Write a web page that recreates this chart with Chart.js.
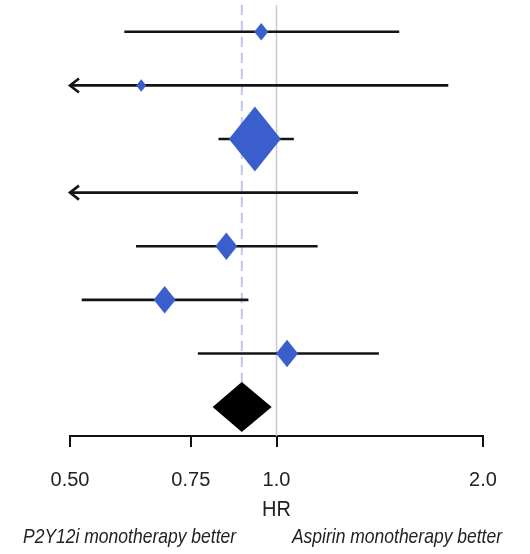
<!DOCTYPE html>
<html>
<head>
<meta charset="utf-8">
<script src="https://cdn.jsdelivr.net/npm/chart.js@4.4.1/dist/chart.umd.min.js"></script>
<style>
  html, body { margin: 0; padding: 0; background: #fff; }
</style>
</head>
<body>
<canvas id="forest" width="530" height="554"></canvas>
<script>
// study rows, top to bottom (null lower = CI runs past 0.5, drawn as arrow)
const hr    = [0.95, 0.635, 0.93, null, 0.845, 0.687, 1.036];
const lower = [0.60, null, 0.823, null, 0.624, 0.52, 0.768];
const upper = [1.51, 1.78, 1.06, 1.315, 1.148, 0.91, 1.41];
// pooled estimate
const pooledHR = 0.89;
const pooledLower = 0.807;
const pooledUpper = 0.984;

const tickValues = [0.5, 0.75, 1.0, 2.0];
const tickLabels = ['0.50', '0.75', '1.0', '2.0'];

// marker half widths in px (box size ~ study weight)
const markerSize = [7, 5, 26, 0, 11, 11, 11];

const FONT = "'Liberation Sans', Arial, sans-serif";
const BLUE = '#3a5fcd';

const ciSets = upper.map((u, i) => ({
  data: [{ x: lower[i] == null ? 0.5 : lower[i], y: i }, { x: u, y: i }],
  showLine: true,
  borderColor: '#141414',
  borderWidth: 2.6,
  pointRadius: 0,
  borderCapStyle: 'butt'
}));

const diamond = (ctx, cx, cy, hw, hh) => {
  ctx.beginPath();
  ctx.moveTo(cx - hw, cy);
  ctx.lineTo(cx, cy - hh);
  ctx.lineTo(cx + hw, cy);
  ctx.lineTo(cx, cy + hh);
  ctx.closePath();
  ctx.fill();
};

// text stretched a little vertically, like the source image
const tallText = (ctx, txt, x, y, sy) => {
  ctx.save();
  ctx.translate(x, y);
  ctx.scale(1, sy);
  ctx.fillText(txt, 0, 0);
  ctx.restore();
};

const forestMarks = {
  id: 'forestMarks',
  beforeDatasetsDraw(chart) {
    const { ctx, chartArea, scales: { x, y } } = chart;
    ctx.save();
    const x1 = x.getPixelForValue(1);
    ctx.strokeStyle = '#c8c8d6';
    ctx.lineWidth = 1.5;
    ctx.beginPath();
    ctx.moveTo(x1, chartArea.top);
    ctx.lineTo(x1, chartArea.bottom);
    ctx.stroke();

    const xp = x.getPixelForValue(pooledHR);
    ctx.strokeStyle = '#c4c4ee';
    ctx.lineWidth = 2;
    ctx.setLineDash([10, 6]);
    ctx.beginPath();
    ctx.moveTo(xp, chartArea.top);
    ctx.lineTo(xp, y.getPixelForValue(hr.length) - 24);
    ctx.stroke();
    ctx.restore();
  },
  afterDatasetsDraw(chart) {
    const { ctx, scales: { x, y } } = chart;
    ctx.save();
    // arrows for CIs running off the left edge
    ctx.strokeStyle = '#141414';
    ctx.lineWidth = 2.6;
    lower.forEach((lo, i) => {
      if (lo != null) return;
      const ax = x.getPixelForValue(0.5), ay = y.getPixelForValue(i);
      ctx.beginPath();
      ctx.moveTo(ax + 9, ay - 7);
      ctx.lineTo(ax, ay);
      ctx.lineTo(ax + 9, ay + 7);
      ctx.stroke();
    });
    // study estimates
    ctx.fillStyle = BLUE;
    hr.forEach((v, i) => {
      if (v == null) return;
      const s = markerSize[i];
      diamond(ctx, x.getPixelForValue(v), y.getPixelForValue(i), s, s * 1.25);
    });
    // pooled diamond spans the CI
    const xl = x.getPixelForValue(pooledLower);
    const xr = x.getPixelForValue(pooledUpper);
    const xc = x.getPixelForValue(pooledHR);
    const yc = y.getPixelForValue(hr.length);
    ctx.fillStyle = '#000';
    ctx.beginPath();
    ctx.moveTo(xl, yc);
    ctx.lineTo(xc, yc - 25);
    ctx.lineTo(xr, yc);
    ctx.lineTo(xc, yc + 25);
    ctx.closePath();
    ctx.fill();
    ctx.restore();
  },
  afterDraw(chart) {
    const { ctx, scales: { x } } = chart;
    ctx.save();
    ctx.fillStyle = '#222';
    ctx.textBaseline = 'alphabetic';
    ctx.textAlign = 'center';
    ctx.font = '20px ' + FONT;
    tallText(ctx, 'HR', x.getPixelForValue(1), 516, 1.12);
    ctx.font = 'italic 17.5px ' + FONT;
    ctx.textAlign = 'left';
    tallText(ctx, 'P2Y12i monotherapy better', 23, 543, 1.2);
    ctx.textAlign = 'right';
    tallText(ctx, 'Aspirin monotherapy better', 502, 543, 1.2);
    ctx.restore();
  }
};

new Chart(document.getElementById('forest'), {
  type: 'scatter',
  data: { datasets: ciSets },
  options: {
    responsive: false,
    animation: false,
    devicePixelRatio: 1,
    layout: { padding: { left: 70, right: 47, top: 5, bottom: 0 } },
    plugins: { legend: { display: false }, tooltip: { enabled: false } },
    scales: {
      x: {
        type: 'logarithmic',
        position: 'bottom',
        min: 0.5,
        max: 2,
        afterBuildTicks: s => { s.ticks = tickValues.map(v => ({ value: v })); },
        afterFit: s => { s.height = 118; },
        border: { display: true, color: '#111', width: 2 },
        grid: { drawOnChartArea: false, drawTicks: true, tickLength: 11, color: '#111', lineWidth: 2 },
        ticks: {
          color: '#222',
          font: { family: FONT, size: 20 },
          padding: 21,
          maxRotation: 0,
          autoSkip: false,
          callback: v => tickLabels[tickValues.indexOf(v)]
        }
      },
      y: {
        type: 'linear',
        display: false,
        reverse: true,
        min: -0.5,
        max: 7.54
      }
    }
  },
  plugins: [forestMarks]
});
</script>
</body>
</html>
